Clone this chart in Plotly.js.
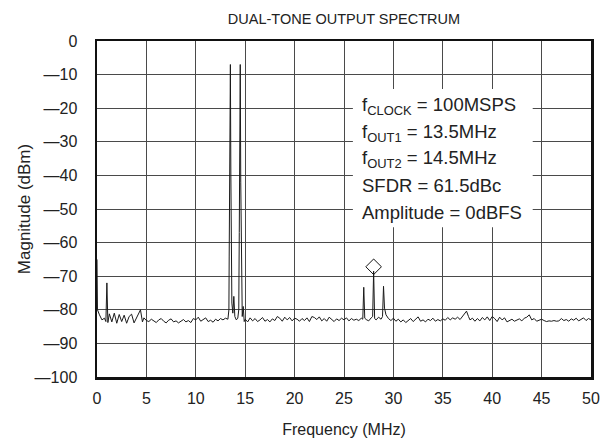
<!DOCTYPE html>
<html>
<head>
<meta charset="utf-8">
<script src="https://cdn.plot.ly/plotly-3.0.1.min.js"></script>
<style>html,body{margin:0;padding:0;background:#fff;}#chart{width:616px;height:444px;}</style>
</head>
<body>
<div id="chart"></div>
<script>
// Frequency (MHz) and magnitude (dBm) of the measured spectrum trace
const freqMHz = [
  0, 0.05, 0.25, 0.5, 0.75, 0.9, 1.0, 1.1, 1.25, 1.5, 1.75, 2.0, 2.25, 2.5, 2.75, 3.0, 3.25, 3.5, 3.75, 4.0, 4.25, 4.4, 4.6, 4.75, 5.0,
  5.25, 5.5, 5.75, 6.0, 6.25, 6.5, 6.75, 7.0, 7.25, 7.5, 7.75, 8.0, 8.25, 8.5, 8.75, 9.0, 9.25, 9.5, 9.75, 10.0,
  10.25, 10.5, 10.75, 11.0, 11.25, 11.5, 11.75, 12.0, 12.25, 12.5, 12.75, 13.0, 13.25,
  13.35, 13.38, 13.4, 13.45, 13.5, 13.55, 13.6, 13.65, 13.75, 13.85, 13.95, 14.1, 14.25,
  14.35, 14.4, 14.45, 14.5, 14.55, 14.6, 14.7, 14.8, 14.9,
  15.0, 15.25, 15.5, 15.75, 16.0, 16.25, 16.5, 16.75, 17.0, 17.25, 17.5, 17.75, 18.0, 18.25, 18.5, 18.75, 19.0, 19.25, 19.5, 19.75,
  20.0, 20.25, 20.5, 20.75, 21.0, 21.25, 21.5, 21.75, 22.0, 22.25, 22.5, 22.75, 23.0, 23.25, 23.5, 23.75, 24.0, 24.25, 24.5, 24.75,
  25.0, 25.25, 25.5, 25.75, 26.0, 26.25, 26.5, 26.75, 26.9, 27.0, 27.1, 27.25, 27.5, 27.75, 27.9, 28.0, 28.1, 28.25, 28.5, 28.75,
  28.9, 29.0, 29.1, 29.25, 29.5, 29.75,
  30.0, 30.25, 30.5, 30.75, 31.0, 31.25, 31.5, 31.75, 32.0, 32.25, 32.5, 32.75, 33.0, 33.25, 33.5, 33.75, 34.0, 34.25, 34.5, 34.75,
  35.0, 35.25, 35.5, 35.75, 36.0, 36.25, 36.5, 36.75, 37.0, 37.25, 37.4, 37.6, 37.75, 38.0, 38.25, 38.5, 38.75, 39.0, 39.25, 39.5, 39.75,
  40.0, 40.25, 40.5, 40.75, 41.0, 41.25, 41.5, 41.75, 42.0, 42.25, 42.5, 42.75, 43.0, 43.25, 43.5, 43.75, 44.0, 44.25, 44.5, 44.75,
  45.0, 45.25, 45.5, 45.75, 46.0, 46.25, 46.5, 46.75, 47.0, 47.25, 47.5, 47.75, 48.0, 48.25, 48.5, 48.75, 49.0, 49.25, 49.5, 49.75, 50.0
];
const magnitudeDBm = [
  -65, -80, -81.5, -83, -82.5, -83.5, -72, -83.8, -81.2, -83.6, -81.0, -84.0, -81.4, -83.5, -81.6, -84.0, -82.0, -81.3, -83.9, -82.3, -81.2, -80.0, -83.6, -82.4, -83.2,
  -83.5, -82.8, -83.2, -83.8, -83.0, -82.6, -83.4, -83.9, -83.1, -82.7, -83.6, -83.3, -83.9, -83.5, -82.9, -83.6, -83.2, -83.8, -82.6, -83.0,
  -82.2, -83.4, -83.0, -82.4, -83.5, -83.1, -83.7, -82.8, -83.3, -82.6, -83.0, -82.5, -82.8,
  -80, -64, -47, -25, -7, -40, -65, -78, -81, -76, -82, -83, -82.5,
  -80, -57, -30, -7, -42, -68, -82, -79, -83.5,
  -82.8, -83.6, -82.4, -83.3, -82.6, -83.5, -83.0, -82.3, -83.4, -82.9, -83.6, -82.7, -83.2, -82.0, -82.5, -83.4, -82.2, -83.0, -82.3, -83.3,
  -82.5, -82.8, -83.4, -82.6, -83.2, -82.4, -83.5, -82.0, -82.3, -82.9, -82.1, -83.3, -82.6, -83.4, -82.2, -83.0, -83.5, -82.7, -83.2, -82.5,
  -83.0, -82.4, -83.3, -82.6, -83.1, -82.8, -83.2, -82.5, -82.8, -73.3, -82.5, -82.9, -83.3, -82.4, -82.0, -68.5, -82.6, -83.0, -82.2, -82.8,
  -82.0, -73.0, -79.5, -81.5, -82.6, -83.2,
  -82.5, -83.4, -82.8, -83.6, -83.0, -83.8, -83.2, -82.6, -83.5, -82.9, -82.1, -83.4, -83.0, -83.6, -82.8, -83.2, -82.5, -83.4, -82.9, -83.3,
  -82.7, -83.1, -82.3, -83.0, -82.4, -82.8, -82.2, -82.9, -82.0, -81.2, -80.4, -82.0, -83.0, -82.5, -83.4, -82.6, -83.3, -82.3, -83.0, -82.1, -83.2,
  -82.0, -82.6, -83.5, -82.2, -83.0, -82.4, -83.6, -83.1, -82.8, -83.4, -83.0, -82.7, -83.3, -82.5, -82.2, -81.5, -83.0, -82.6, -83.4, -83.0,
  -82.8, -83.2, -83.5, -83.3, -83.4, -83.2, -83.4, -83.3, -82.6, -83.2, -82.9, -83.4, -82.7, -83.1, -82.5, -83.3, -82.8, -82.4, -83.2, -82.6, -83.0
];
// Marker on the worst spur (SFDR reference)
const spurMarkerMHz = [28.0];
const spurMarkerDBm = [-67.2];

// Text block
const infoLines = [
  'f<sub>CLOCK</sub> = 100MSPS',
  'f<sub>OUT1</sub> = 13.5MHz',
  'f<sub>OUT2</sub> = 14.5MHz',
  'SFDR = 61.5dBc',
  'Amplitude = 0dBFS'
];
const infoLineY = [-19.4, -27.4, -35.0, -42.9, -50.9];

const xTicks = [0, 5, 10, 15, 20, 25, 30, 35, 40, 45, 50];
const yTicks = [0, -10, -20, -30, -40, -50, -60, -70, -80, -90, -100];

const FONT = 'Liberation Sans, Arial, sans-serif';
const TXT = '#222';

const traces = [
  {
    x: freqMHz, y: magnitudeDBm, type: 'scatter', mode: 'lines',
    line: {color: '#1a1a1a', width: 1}, hoverinfo: 'x+y', showlegend: false
  },
  {
    x: spurMarkerMHz, y: spurMarkerDBm, type: 'scatter', mode: 'markers',
    marker: {symbol: 'diamond-open', size: 12, color: '#111', line: {width: 1, color: '#111'}},
    showlegend: false
  }
];

const annotations = infoLines.map((t, i) => ({
  text: t, x: 26.6, y: infoLineY[i], xref: 'x', yref: 'y',
  xanchor: 'left', yanchor: 'middle', showarrow: false,
  font: {family: FONT, size: 18.5, color: TXT}
}));

const layout = {
  width: 616, height: 444,
  margin: {l: 97, r: 25, t: 41, b: 67},
  paper_bgcolor: '#fff', plot_bgcolor: '#fff',
  title: {
    text: 'DUAL-TONE OUTPUT SPECTRUM',
    font: {family: FONT, size: 14.5, color: TXT},
    x: 0.5, xref: 'paper', y: 1 - 19 / 444, yref: 'container', yanchor: 'middle'
  },
  xaxis: {
    range: [0, 50], tickvals: xTicks, ticktext: xTicks.map(String),
    showgrid: true, gridcolor: '#4a4a4a', gridwidth: 1, zeroline: false,
    showline: true, linecolor: '#111', linewidth: 2.5, mirror: true,
    ticks: '', ticklabelstandoff: 5,
    tickfont: {family: FONT, size: 16, color: TXT},
    title: {text: 'Frequency (MHz)', font: {family: FONT, size: 16, color: TXT}, standoff: 18}
  },
  yaxis: {
    range: [-100, 0], tickvals: yTicks, ticktext: yTicks.map(v => v === 0 ? '0' : '\u2014' + Math.abs(v)),
    showgrid: true, gridcolor: '#4a4a4a', gridwidth: 1, zeroline: false,
    showline: true, linecolor: '#111', linewidth: 2.5, mirror: true,
    ticks: '', ticklabelstandoff: 14,
    tickfont: {family: FONT, size: 16, color: TXT},
    title: {text: 'Magnitude (dBm)', font: {family: FONT, size: 17, color: TXT}, standoff: 0}
  },
  shapes: [{
    type: 'rect', xref: 'x', yref: 'y', x0: 25.9, x1: 44.1, y0: -55.4, y1: -14.3,
    fillcolor: '#fff', line: {width: 0}, layer: 'above'
  }],
  annotations: annotations
};

Plotly.newPlot('chart', traces, layout, {displayModeBar: false, staticPlot: true});
</script>
</body>
</html>
